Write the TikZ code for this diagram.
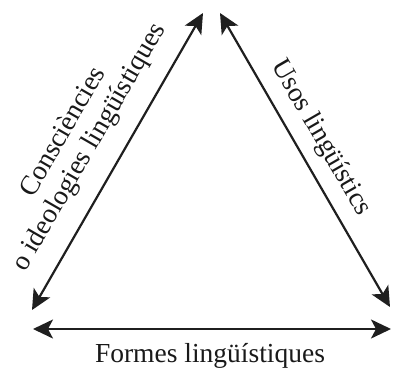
\documentclass[tikz,border=0pt]{standalone}
\usepackage{fontspec}
\setmainfont{Liberation Serif}
\usetikzlibrary{arrows.meta}
\begin{document}
\begin{tikzpicture}[x=1pt,y=-1pt,
  dbl/.style={{Stealth[length=20pt,width=19pt,inset=5pt]}-{Stealth[length=20pt,width=19pt,inset=5pt]}, line width=2.2pt, draw=black!88},
  lbl/.style={font=\fontsize{27.5}{30}\selectfont, text=black!90, inner sep=0pt, align=center}]
\useasboundingbox (0,0) rectangle (393,367);
\coordinate (top1) at (203,13);
\coordinate (top2) at (220,13);
\coordinate (bl) at (32,310);
\coordinate (br) at (390,307);
\coordinate (hl) at (33,329);
\coordinate (hr) at (391,329);
\draw[dbl] (bl) -- (top1);
\draw[dbl] (top2) -- (br);
\draw[dbl] (hl) -- (hr);
\node[lbl, anchor=base] (formes) at (210,362) {Formes lingüístiques};
\node[lbl, rotate=60] (consc) at (77,140) {Consciències\\o ideologies lingüístiques};
\node[lbl, rotate=-60] (usos) at (321,138) {Usos lingüístics};
\end{tikzpicture}
\end{document}
